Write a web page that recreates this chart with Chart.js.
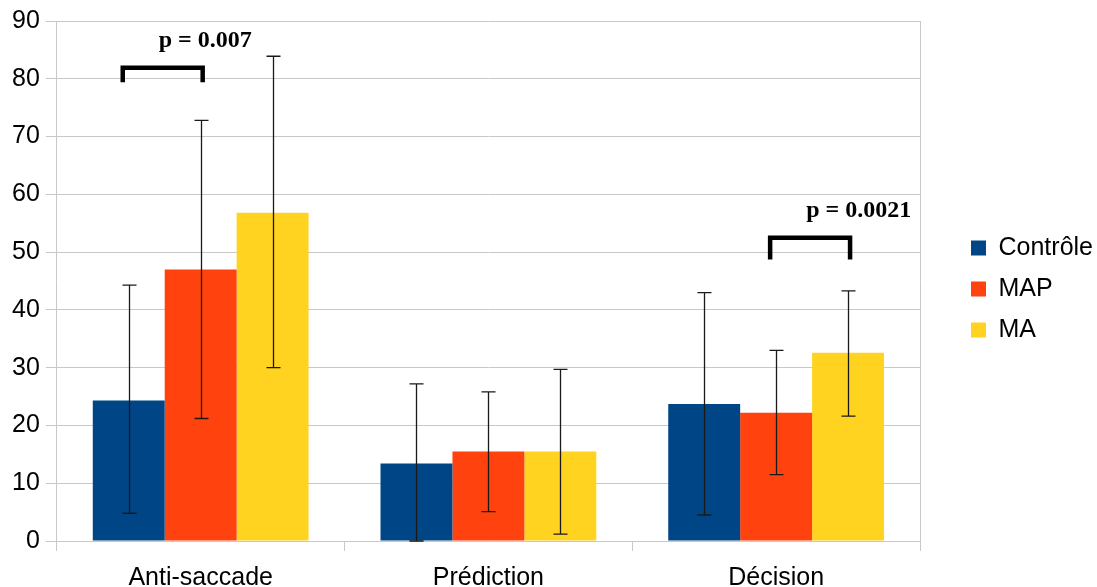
<!DOCTYPE html>
<html>
<head>
<meta charset="utf-8">
<script src="https://cdn.jsdelivr.net/npm/chart.js@4.4.0/dist/chart.umd.min.js"></script>
<style>
  html, body { margin: 0; padding: 0; background: #fff; }
  #chart-1 { width: 1097px; height: 587px; }
</style>
</head>
<body>
<div id="chart-1"><canvas id="barChart"></canvas></div>
<script>
// categories and series
var categories = ['Anti-saccade', 'Prédiction', 'Décision'];
var seriesNames = ['Contrôle', 'MAP', 'MA'];
var controleValues = [24.3, 13.4, 23.7];
var mapValues = [47.0, 15.5, 22.2];
var maValues = [56.8, 15.5, 32.6];

// error bar ends (low / high)
var controleLow = [4.8, 0, 4.5];
var controleHigh = [44.3, 27.2, 43.0];
var mapLow = [21.2, 5.1, 11.5];
var mapHigh = [72.8, 25.8, 33.0];
var maLow = [30.0, 1.2, 21.6];
var maHigh = [83.9, 29.7, 43.3];

// y ticks
var yTicks = [0, 10, 20, 30, 40, 50, 60, 70, 80, 90];

// significance brackets
var bracketCategory = [0, 2];
var bracketFrom = [0, 1];
var bracketTo = [1, 2];
var bracketTop = [81.9, 52.5];
var bracketBottom = [79.4, 48.7];
var pLabels = ['p = 0.007', 'p = 0.0021'];

var colors = ['#004586', '#ff420e', '#ffd320'];
var gridColor = '#c8c8c8';
var lowArrays = [controleLow, mapLow, maLow];
var highArrays = [controleHigh, mapHigh, maHigh];

var errorBars = {
  id: 'errorBars',
  afterDatasetsDraw: function (chart) {
    var ctx = chart.ctx;
    var y = chart.scales.y;
    ctx.save();
    ctx.strokeStyle = '#1a1a1a';
    ctx.lineWidth = 1.3;
    chart.data.datasets.forEach(function (ds, i) {
      chart.getDatasetMeta(i).data.forEach(function (bar, j) {
        var x = Math.round(bar.x) + 0.5;
        var y1 = y.getPixelForValue(lowArrays[i][j]);
        var y2 = y.getPixelForValue(highArrays[i][j]);
        ctx.beginPath();
        ctx.moveTo(x, y1); ctx.lineTo(x, y2);
        ctx.moveTo(x - 7, y1); ctx.lineTo(x + 7, y1);
        ctx.moveTo(x - 7, y2); ctx.lineTo(x + 7, y2);
        ctx.stroke();
      });
    });
    ctx.restore();
  }
};

var brackets = {
  id: 'brackets',
  afterDatasetsDraw: function (chart) {
    var ctx = chart.ctx;
    var y = chart.scales.y;
    ctx.save();
    ctx.strokeStyle = '#000';
    ctx.lineWidth = 4.5;
    ctx.fillStyle = '#000';
    ctx.font = 'bold 24px "Liberation Serif", "DejaVu Serif", serif';
    ctx.textBaseline = 'middle';
    ctx.textAlign = 'left';
    pLabels.forEach(function (label, k) {
      var c = bracketCategory[k];
      var xa = chart.getDatasetMeta(bracketFrom[k]).data[c].x - 6;
      var xb = chart.getDatasetMeta(bracketTo[k]).data[c].x + 2;
      var yt = y.getPixelForValue(bracketTop[k]);
      var yb = y.getPixelForValue(bracketBottom[k]);
      ctx.beginPath();
      ctx.moveTo(xa, yb); ctx.lineTo(xa, yt); ctx.lineTo(xb, yt); ctx.lineTo(xb, yb);
      ctx.stroke();
      ctx.fillText(label, xa + 36, y.getPixelForValue(bracketTop[k] + 4.6));
    });
    ctx.restore();
  }
};

// nudge the legend block up a little
var legendNudge = {
  id: 'legendNudge',
  afterLayout: function (chart) {
    if (chart.legend) {
      chart.legend.bottom -= 17;
    }
  }
};

var sansFont = '"Liberation Sans", Arial, sans-serif';

new Chart(document.getElementById('barChart'), {
  type: 'bar',
  data: {
    labels: categories,
    datasets: [
      { label: seriesNames[0], data: controleValues, backgroundColor: colors[0] },
      { label: seriesNames[1], data: mapValues, backgroundColor: colors[1] },
      { label: seriesNames[2], data: maValues, backgroundColor: colors[2] }
    ]
  },
  options: {
    responsive: true,
    maintainAspectRatio: false,
    animation: false,
    devicePixelRatio: 1,
    layout: { padding: { left: 6, top: 8, right: -6, bottom: 0 } },
    datasets: { bar: { categoryPercentage: 0.75, barPercentage: 1.0 } },
    plugins: {
      tooltip: { enabled: false },
      legend: {
        position: 'right',
        labels: {
          boxWidth: 15, boxHeight: 15, padding: 16,
          color: '#000',
          font: { family: sansFont, size: 25 }
        }
      }
    },
    scales: {
      x: {
        grid: { drawOnChartArea: false, drawTicks: true, tickLength: 10, color: gridColor, offset: true },
        border: { display: true, color: gridColor },
        ticks: { color: '#000', padding: 12, font: { family: sansFont, size: 25 } },
        afterFit: function (s) { s.height = 46; }
      },
      y: {
        min: 0, max: 90,
        afterBuildTicks: function (s) { s.ticks = yTicks.map(function (v) { return { value: v }; }); },
        grid: { color: gridColor, tickLength: 11 },
        border: { display: true, color: gridColor },
        ticks: { color: '#000', padding: 6, font: { family: sansFont, size: 25 } }
      },
      y2: {
        type: 'linear',
        position: 'right',
        grid: { display: false },
        ticks: { display: false },
        border: { display: true, color: gridColor },
        afterFit: function (s) { s.width = 35; }
      }
    }
  },
  plugins: [errorBars, brackets, legendNudge]
});
</script>
</body>
</html>
